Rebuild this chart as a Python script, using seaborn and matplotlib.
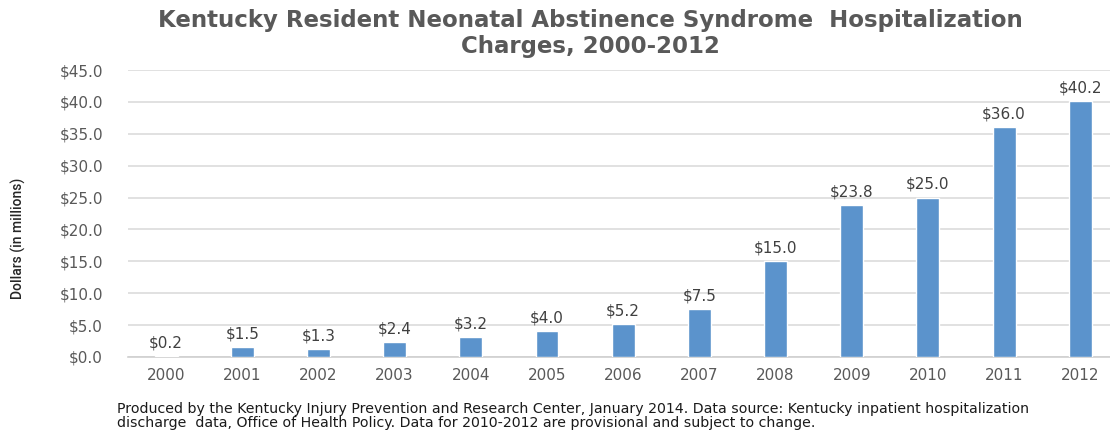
import matplotlib
matplotlib.use("Agg")
import matplotlib.pyplot as plt
import seaborn as sns
import pandas as pd

years = ["2000", "2001", "2002", "2003", "2004", "2005", "2006",
         "2007", "2008", "2009", "2010", "2011", "2012"]
charges = [0.2, 1.5, 1.3, 2.4, 3.2, 4.0, 5.2, 7.5, 15.0, 23.8, 25.0, 36.0, 40.2]
y_ticks = [0, 5, 10, 15, 20, 25, 30, 35, 40, 45]

title_lines = ["Kentucky Resident Neonatal Abstinence Syndrome  Hospitalization",
               "Charges, 2000-2012"]
y_label = "Dollars (in millions)"
footnote_lines = [
    "Produced by the Kentucky Injury Prevention and Research Center, January 2014. "
    "Data source: Kentucky inpatient hospitalization",
    "discharge  data, Office of Health Policy. Data for 2010-2012 are provisional and subject to change.",
]

sns.set_theme(style="white")
plt.rcParams["font.family"] = ["DejaVu Sans"]

df = pd.DataFrame({"year": years, "charges": charges})

fig = plt.figure(figsize=(11.1, 4.3), dpi=100)
ax = fig.add_axes([0.1153, 0.1698, 0.8847, 0.6674])

bar_color = "#5B93CC"
sns.barplot(data=df, x="year", y="charges", order=years, color=bar_color,
            width=0.30, saturation=1, ax=ax, zorder=3)

ax.set_ylim(0, 45)
ax.set_xlim(-0.5, 12.39)
ax.set_yticks(y_ticks)
ax.set_yticklabels([f"${v:.1f}" for v in y_ticks])
ax.yaxis.grid(True, color="#DCDCDC", linewidth=1.2, zorder=0)
ax.set_axisbelow(True)
for s in ["top", "right", "left"]:
    ax.spines[s].set_visible(False)
ax.spines["bottom"].set_color("#D0D0D0")
ax.spines["bottom"].set_linewidth(1.2)
ax.tick_params(axis="both", length=0, labelsize=11, labelcolor="#595959")
ax.tick_params(axis="y", pad=18)
ax.tick_params(axis="x", pad=8)
ax.set_xlabel("")
ax.set_ylabel("")

for i, v in enumerate(charges):
    ax.annotate(f"${v:.1f}", (i, v), xytext=(0, 4), textcoords="offset points",
                ha="center", va="bottom", fontsize=11, color="#404040")

fig.text(0.532, 1 - 21 / 430, title_lines[0], ha="center", va="center",
         fontsize=16.5, fontweight="bold", color="#595959")
fig.text(0.532, 1 - 46 / 430, title_lines[1], ha="center", va="center",
         fontsize=16.5, fontweight="bold", color="#595959")
fig.text(18 / 1110, 1 - 238 / 430, y_label, rotation=90, ha="center", va="center",
         fontsize=10, fontweight="medium", color="#262626",
         family=["Roboto", "DejaVu Sans"])
fig.text(117 / 1110, 1 - 409 / 430, footnote_lines[0], ha="left", va="center",
         fontsize=10.2, color="#1a1a1a")
fig.text(117 / 1110, 1 - 423 / 430, footnote_lines[1], ha="left", va="center",
         fontsize=10.2, color="#1a1a1a")

fig.savefig("out.png", dpi=100)
